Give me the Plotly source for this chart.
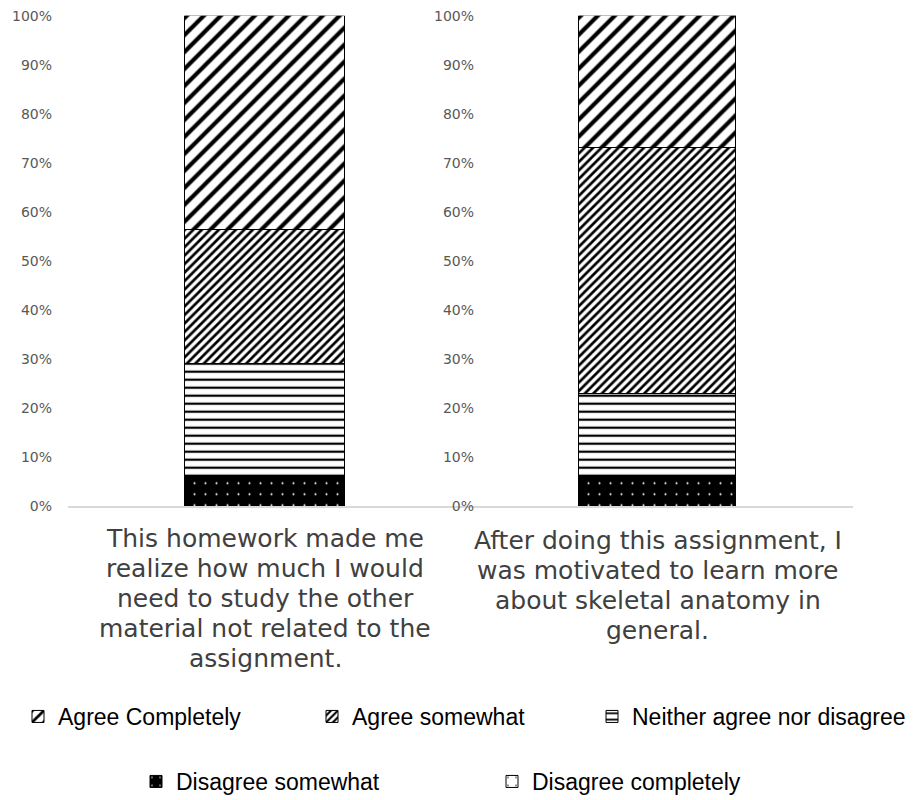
import plotly.graph_objects as go

# ---------------- data ----------------
categories = [
    "This homework made me<br>realize how much I would<br>need to study the other<br>material not related to the<br>assignment.",
    "After doing this assignment, I<br>was motivated to learn more<br>about skeletal anatomy in<br>general.",
]
series_names = ["Disagree completely", "Disagree somewhat", "Neither agree nor disagree",
                "Agree somewhat", "Agree Completely"]
left_values = [0.0, 6.0, 23.1, 27.2, 43.7]     # % for chart 1 (bottom -> top)
right_values = [0.0, 6.0, 17.0, 50.1, 26.9]    # % for chart 2 (bottom -> top)
y_tick_values = [0, 10, 20, 30, 40, 50, 60, 70, 80, 90, 100]
y_tick_labels = ["0%", "10%", "20%", "30%", "40%", "50%", "60%", "70%", "80%", "90%", "100%"]

# ---------------- styles ----------------
patterns = {
    "Disagree completely": dict(shape=".", size=10, solidity=0.03, fgcolor="black", bgcolor="white"),
    "Disagree somewhat": dict(shape=".", size=11, solidity=0.03, fgcolor="white", bgcolor="black"),
    "Neither agree nor disagree": dict(shape="-", size=8, solidity=0.28, fgcolor="black", bgcolor="white"),
    "Agree somewhat": dict(shape="/", size=6, solidity=0.45, fgcolor="black", bgcolor="white"),
    "Agree Completely": dict(shape="/", size=12, solidity=0.35, fgcolor="black", bgcolor="white"),
}
legend_rank = {"Agree Completely": 1, "Agree somewhat": 2, "Neither agree nor disagree": 3,
               "Disagree somewhat": 4, "Disagree completely": 5}
legend_of = {"Agree Completely": "legend", "Agree somewhat": "legend",
             "Neither agree nor disagree": "legend3",
             "Disagree somewhat": "legend2", "Disagree completely": "legend2"}

W, H = 920, 800
fig = go.Figure()
for i, name in enumerate(series_names):
    pat = patterns[name]
    for j, (vals, xa, ya, wid) in enumerate([(left_values, "x", "y", 0.404), (right_values, "x2", "y2", 0.40)]):
        fig.add_trace(go.Bar(
            x=[categories[j]], y=[vals[i]], name=name, xaxis=xa, yaxis=ya, width=wid,
            marker=dict(color=pat["fgcolor"], line=dict(color="black", width=1),
                        pattern=dict(shape=pat["shape"], size=pat["size"], solidity=pat["solidity"],
                                     fgcolor=pat["fgcolor"], bgcolor=pat["bgcolor"], fillmode="replace")),
            showlegend=(j == 0), legendgroup=name, legendrank=legend_rank[name],
            legend=legend_of[name], hoverinfo="skip",
        ))

ydom = [(H - 506.3) / H, (H - 15.7) / H]
yaxis_common = dict(range=[0, 100], domain=ydom, tickvals=y_tick_values, ticktext=y_tick_labels,
                    showgrid=False, zeroline=False, showline=False, ticks="",
                    tickfont=dict(family="DejaVu Sans", size=14, color="#595959"), anchor="free")
xaxis_common = dict(showgrid=False, zeroline=False, showline=True, linecolor="#d9d9d9", linewidth=1.5,
                    ticks="", showticklabels=False, range=[-0.5, 0.5])
legend_font = dict(family="Liberation Sans", size=23, color="black")

fig.update_layout(
    width=W, height=H, margin=dict(l=0, r=0, t=0, b=0, autoexpand=False),
    paper_bgcolor="white", plot_bgcolor="rgba(0,0,0,0)",
    barmode="stack", bargap=0,
    xaxis=dict(domain=[68 / W, 462 / W], anchor="y", **xaxis_common),
    xaxis2=dict(domain=[462 / W, 853 / W], anchor="y2", **xaxis_common),
    yaxis=dict(position=52 / W, **yaxis_common),
    yaxis2=dict(position=474 / W, **yaxis_common),
    legend=dict(orientation="h", x=18 / W, xanchor="left", y=(H - 695) / H, yanchor="top",
                entrywidth=249, font=legend_font, bgcolor="rgba(0,0,0,0)"),
    legend3=dict(orientation="h", x=592 / W, xanchor="left", y=(H - 695) / H, yanchor="top",
                 font=legend_font, bgcolor="rgba(0,0,0,0)"),
    legend2=dict(orientation="h", x=136 / W, xanchor="left", y=(H - 760) / H, yanchor="top",
                 entrywidth=311, font=legend_font, bgcolor="rgba(0,0,0,0)"),
)

# category labels under each bar, one annotation per line (tight line spacing)
first_baseline = [547, 549]
line_step = 30
for j, xa in enumerate(["x", "x2"]):
    for k, line in enumerate(categories[j].split("<br>")):
        yc = first_baseline[j] + k * line_step - 9
        fig.add_annotation(x=categories[j], y=(H - yc) / H, xref=xa, yref="paper",
                           text=line, showarrow=False, yanchor="middle", xanchor="center",
                           font=dict(family="DejaVu Sans", size=25, color="#404040"))

fig.write_html("out.html")
